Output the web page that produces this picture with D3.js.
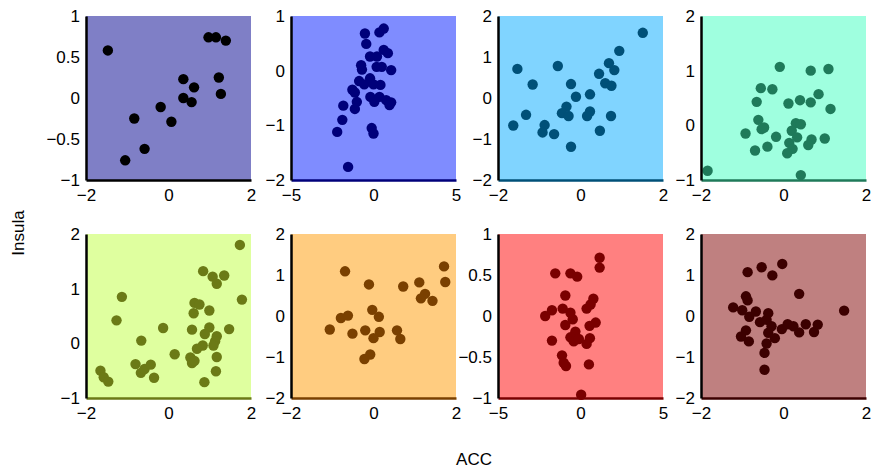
<!DOCTYPE html>
<html>
<head>
<meta charset="utf-8">
<script src="https://cdn.jsdelivr.net/npm/d3@7"></script>
<style>
  body { margin: 0; background: #fff; }
  svg text { font-family: "Liberation Sans", Arial, Helvetica, sans-serif; }
</style>
</head>
<body>
<div id="chart"></div>
<script>
// per-panel data (ACC on x, Insula on y)
var p1x = [-1.47, 0.97, 1.15, 1.39, 0.36, 0.62, 1.22, 1.27, 0.36, 0.56, -0.19, 0.07, -0.83, -0.58, -1.05];
var p1y = [0.58, 0.74, 0.74, 0.70, 0.23, 0.13, 0.25, 0.05, 0.0, -0.05, -0.11, -0.29, -0.25, -0.62, -0.76];

var p2x = [-0.52, -0.44, 0.36, 0.62, -0.21, 0.21, 0.62, 0.87, -0.75, -0.70, 0.19, 0.50, 1.07, -0.87, -0.56, -0.21, 0.0,
  0.42, -1.28, -1.13, -1.01, -1.13, -1.83, -1.89, -2.2, -0.19, 0.05, 0.36, 0.77, 1.07, 0.97, -0.11, 0.0, -1.54];
var p2y = [0.68, 0.49, 0.70, 0.77, 0.26, 0.26, 0.38, 0.32, 0.10, 0.02, 0.07, 0.07, 0.01, -0.19, -0.25, -0.14, -0.25,
  -0.26, -0.35, -0.40, -0.57, -0.70, -0.64, -0.90, -1.12, -0.48, -0.57, -0.48, -0.54, -0.58, -0.63, -1.05, -1.15, -1.76];

var p3x = [1.51, 0.94, 0.69, 0.82, 0.45, 0.60, 0.75, -1.53, -0.55, -1.16, -0.23, -0.11, 0.23, -0.34, -0.45, -0.29,
  0.23, 0.16, 0.74, -1.32, -1.63, -0.87, -0.92, -0.64, 0.47, -0.23];
var p3y = [1.59, 1.15, 0.85, 0.68, 0.59, 0.36, 0.30, 0.71, 0.78, 0.33, 0.34, 0.03, 0.09, -0.21, -0.37, -0.44,
  -0.33, -0.44, -0.44, -0.41, -0.67, -0.66, -0.84, -0.88, -0.80, -1.19];

var p4x = [-0.09, 0.66, 1.09, -0.55, -0.27, -0.65, 0.12, 0.40, 0.66, 0.85, 1.14, -0.61, -0.53, -0.47, -0.92, -0.18,
  0.30, 0.42, 0.20, 0.33, 0.14, 0.22, 0.09, -0.39, -0.69, 0.68, 0.60, 1.0, -1.84, 0.42];
var p4y = [1.07, 1.0, 1.03, 0.68, 0.66, 0.43, 0.40, 0.46, 0.42, 0.57, 0.30, 0.10, -0.07, -0.04, -0.15, -0.21,
  0.04, 0.02, -0.10, -0.22, -0.32, -0.43, -0.51, -0.39, -0.46, -0.26, -0.36, -0.24, -0.83, -0.91];

var p5x = [1.73, 0.84, 1.07, 1.35, 1.17, 1.78, -1.13, 0.63, 0.75, 0.61, 0.99, -1.26, -0.13, 0.57, 0.99, 1.47, 0.88,
  1.17, 1.13, 1.09, -0.66, 0.83, 0.69, 0.15, 0.53, 0.57, 0.63, 1.17, 1.15, 0.87, -0.80, -0.67, -0.58, -0.43, -0.35,
  -1.65, -1.57, -1.46];
var p5y = [1.80, 1.32, 1.22, 1.24, 1.09, 0.80, 0.85, 0.74, 0.71, 0.55, 0.60, 0.42, 0.28, 0.25, 0.29, 0.26, 0.17,
  0.13, 0.04, -0.04, 0.05, -0.04, -0.10, -0.20, -0.26, -0.36, -0.32, -0.25, -0.51, -0.71, -0.38, -0.54, -0.47, -0.39,
  -0.63, -0.50, -0.62, -0.70];

var p6x = [-0.69, -0.11, 0.72, 1.11, 1.71, 1.74, 1.25, 1.15, 1.43, -0.03, 0.13, -0.79, -0.62, -1.06, -0.51, -0.20,
  0.15, 0.0, 0.57, 0.65, -0.08, -0.22];
var p6y = [1.09, 0.77, 0.72, 0.82, 1.21, 0.83, 0.54, 0.43, 0.37, 0.15, -0.02, -0.05, 0.01, -0.33, -0.43, -0.35,
  -0.39, -0.54, -0.35, -0.56, -0.94, -1.05];

var p7x = [1.16, 1.16, -1.53, -0.61, -0.20, -0.92, 0.78, 0.61, 0.37, -1.73, -2.14, -1.08, -0.61, -0.47, -0.92, 0.92,
  0.55, -0.31, -0.61, -0.41, -0.10, 0.57, 0.37, -1.73, -1.12, -0.88, -1.02, 0.51, 0.04];
var p7y = [0.71, 0.59, 0.52, 0.52, 0.48, 0.25, 0.21, 0.14, 0.09, 0.07, 0.0, 0.09, 0.04, -0.04, -0.11, -0.08,
  -0.12, -0.19, -0.26, -0.31, -0.28, -0.27, -0.34, -0.30, -0.48, -0.61, -0.57, -0.59, -0.96];

var p8x = [-0.03, -0.53, -0.27, -0.87, 0.38, 1.47, -0.91, -0.87, -1.22, -1.0, -0.83, -0.67, -0.37, -0.57, -0.41,
  -0.29, -0.04, 0.10, 0.24, 0.38, 0.54, 0.74, 0.83, -0.91, -1.03, -0.84, -0.37, -0.21, -0.41, -0.46, -0.46];
var p8y = [1.27, 1.19, 0.99, 1.07, 0.54, 0.13, 0.48, 0.38, 0.21, 0.14, -0.02, 0.11, 0.07, -0.15, -0.09,
  -0.25, -0.32, -0.20, -0.25, -0.40, -0.20, -0.39, -0.21, -0.35, -0.50, -0.62, -0.41, -0.54, -0.67, -0.90, -1.31];

var xsData = [p1x, p2x, p3x, p4x, p5x, p6x, p7x, p8x];
var ysData = [p1y, p2y, p3y, p4y, p5y, p6y, p7y, p8y];

// axis limits and tick labels per panel
var xDomains = [[-2, 2], [-5, 5], [-2, 2], [-2, 2], [-2, 2], [-2, 2], [-5, 5], [-2, 2]];
var yDomains = [[-1, 1], [-2, 1], [-2, 2], [-1, 2], [-1, 2], [-2, 2], [-1, 1], [-2, 2]];
var xTicks = [[-2, 0, 2], [-5, 0, 5], [-2, 0, 2], [-2, 0, 2], [-2, 0, 2], [-2, 0, 2], [-5, 0, 5], [-2, 0, 2]];
var yTicks = [[-1, -0.5, 0, 0.5, 1], [-2, -1, 0, 1], [-2, -1, 0, 1, 2], [-1, 0, 1, 2],
  [-1, 0, 1, 2], [-2, -1, 0, 1, 2], [-1, -0.5, 0, 0.5, 1], [-2, -1, 0, 1, 2]];

// panel colours (background, markers)
var bgColors = ["#7f7fc6", "#7f8cff", "#80d4ff", "#9fffdf", "#dfff9f", "#ffcc80", "#ff8080", "#bf8080"];
var dotColors = ["#000000", "#00007a", "#005078", "#1f7a5a", "#6b7a16", "#7a4000", "#7a0000", "#3c0000"];

var W = 878, H = 472;
var colLeft = [86, 291, 498, 701];
var rowTop = [16, 234];
var pw = 165, ph = 164;
var radius = 5.2;

var fmt = function (d) { return String(d).replace("-", "\u2212"); };

var svg = d3.select("#chart").append("svg")
  .attr("width", W)
  .attr("height", H);

xsData.forEach(function (xs, i) {
  var left = colLeft[i % 4], top = rowTop[Math.floor(i / 4)];
  var x = d3.scaleLinear().domain(xDomains[i]).range([0, pw]);
  var y = d3.scaleLinear().domain(yDomains[i]).range([ph, 0]);
  var pts = xs.map(function (v, j) { return { x: v, y: ysData[i][j] }; });

  var g = svg.append("g").attr("transform", `translate(${left},${top})`);

  g.append("rect")
    .attr("width", pw)
    .attr("height", ph)
    .attr("fill", bgColors[i]);

  g.append("g")
    .selectAll("circle")
    .data(pts)
    .enter()
    .append("circle")
    .attr("cx", (d) => x(d.x))
    .attr("cy", (d) => y(d.y))
    .attr("r", radius)
    .attr("fill", dotColors[i]);

  // x axis (bottom line drawn in the marker colour)
  var gx = g.append("g")
    .attr("transform", `translate(0,${ph})`)
    .call(d3.axisBottom(x).tickValues(xTicks[i]).tickFormat(fmt).tickSize(0).tickPadding(9));
  gx.select(".domain").attr("stroke", dotColors[i]).attr("stroke-width", 2.5);

  var gy = g.append("g")
    .call(d3.axisLeft(y).tickValues(yTicks[i]).tickFormat(fmt).tickSize(0).tickPadding(6));
  gy.select(".domain").attr("stroke", "#000").attr("stroke-width", 2.5);

  g.selectAll(".tick text")
    .attr("font-size", 17)
    .attr("fill", "#000")
    .attr("font-family", "Liberation Sans, Arial, sans-serif");
});

svg.append("text")
  .attr("x", 474)
  .attr("y", 465)
  .attr("text-anchor", "middle")
  .attr("font-size", 17)
  .text("ACC");

svg.append("text")
  .attr("transform", "translate(24,233) rotate(-90)")
  .attr("text-anchor", "middle")
  .attr("font-size", 17)
  .text("Insula");
</script>
</body>
</html>
